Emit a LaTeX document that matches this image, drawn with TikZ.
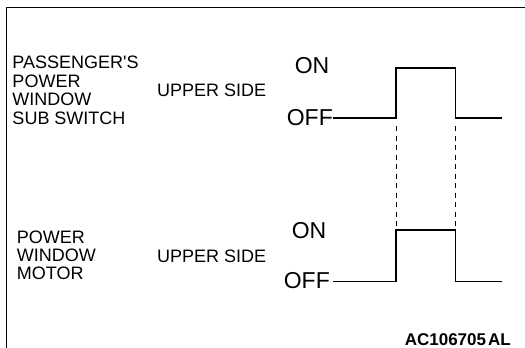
\documentclass[tikz,border=0pt]{standalone}
\usepackage{fontspec}
\setmainfont{Liberation Sans}[Ligatures=TeXOff]
\begin{document}
\begin{tikzpicture}[x=1pt,y=-1pt,
  lbl/.style={inner sep=0pt, font=\fontsize{18}{18.4}\selectfont, align=left, anchor=west},
  lvl/.style={inner sep=0pt, font=\fontsize{23}{24}\selectfont},
  wave/.style={line width=1.8pt, line join=miter},
  guide/.style={line width=0.9pt, dash pattern=on 5pt off 4.5pt},
  frame/.style={line width=1pt},
  code/.style={inner sep=0pt, font=\fontsize{17}{19}\selectfont\bfseries, anchor=east}]
\useasboundingbox (0,0) rectangle (525,348);
\draw[frame] (6.5,348) -- (6.5,7) -- (525,7);
% upper signal
\node[lbl] (sw) at (12.3,90.3) {PASSENGER'S\\POWER\\WINDOW\\SUB SWITCH};
\node[lbl] (up1) at (157,90) {UPPER SIDE};
\node[lvl] (on1) at (312,65.8) {ON};
\node[lvl,anchor=east] (off1) at (333,117.7) {OFF};
\coordinate (a1) at (333,117.7);
\coordinate (b1) at (396,117.7);
\coordinate (c1) at (396,67.7);
\coordinate (d1) at (455.5,67.7);
\coordinate (e1) at (455.5,117.7);
\coordinate (f1) at (502,117.7);
\draw[wave] (a1) -- (b1) -- (c1) -- (d1) -- (e1) -- (f1);
% lower signal
\node[lbl] (mot) at (16.7,255.3) {POWER\\WINDOW\\MOTOR};
\node[lbl] (up2) at (157,256) {UPPER SIDE};
\node[lvl] (on2) at (309,230.5) {ON};
\node[lvl,anchor=east] (off2) at (330,280.5) {OFF};
\coordinate (a2) at (333,281.5);
\coordinate (b2) at (396,281.5);
\coordinate (c2) at (396,230);
\coordinate (d2) at (455.5,230);
\coordinate (e2) at (455.5,281.5);
\coordinate (f2) at (502,281.5);
\draw[wave] (a2) -- (b2) -- (c2) -- (d2) -- (e2) -- (f2);
% guides
\coordinate (g1t) at (396,126);
\coordinate (g2t) at (455.5,126);
\draw[guide] (g1t) -- (g1t |- c2);
\draw[guide] (g2t) -- (g2t |- d2);
\node[code] (id) at (511,340) {AC106705\hspace{0.12em}AL};
\end{tikzpicture}
\end{document}
